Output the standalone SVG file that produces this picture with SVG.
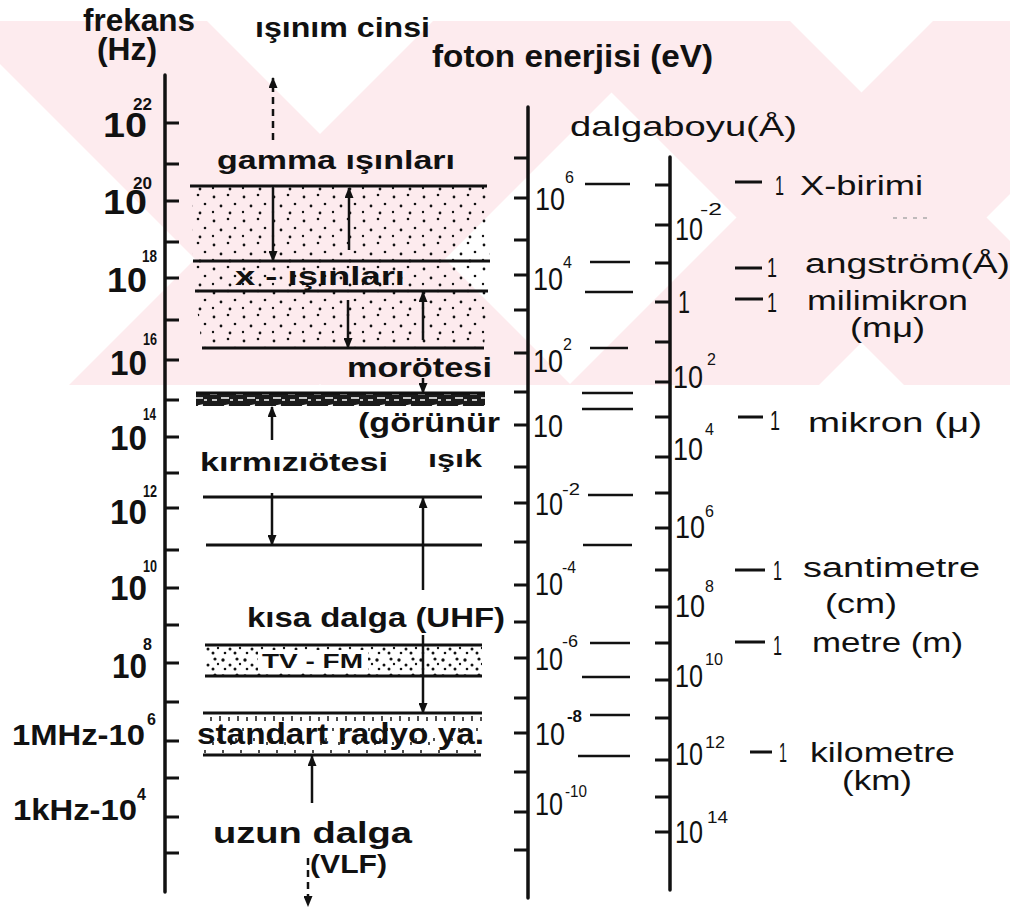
<svg xmlns="http://www.w3.org/2000/svg" width="1019" height="912" viewBox="0 0 1019 912">
<defs>
<style>
.ax{stroke:#111;stroke-width:3.5;fill:none;stroke-linecap:round}
.tk{stroke:#111;stroke-width:3;fill:none}
.bl{stroke:#111;stroke-width:3;fill:none}
.ds{stroke:#111;stroke-width:2.5;fill:none}
.ar{stroke:#111;stroke-width:2.5;fill:none;marker-end:url(#ah)}
.ard{stroke:#111;stroke-width:2.5;fill:none;stroke-dasharray:7 5;marker-end:url(#ah)}
.wm{fill:#fdebee}
text{font-family:"Liberation Sans",Arial,sans-serif;fill:#111;font-weight:bold}
.n{font-weight:normal}
.sup{font-size:16px}
.L{font-size:35px}
.E{font-size:31px;font-weight:normal}
.U{font-size:27px;font-weight:normal}
</style>
<marker id="ah" viewBox="0 0 12 10" refX="11" refY="5" markerWidth="12" markerHeight="9" markerUnits="userSpaceOnUse" orient="auto"><path d="M0,0 L12,5 L0,10 Z" fill="#111"/></marker>
<pattern id="dots" width="30" height="24" patternUnits="userSpaceOnUse"><g fill="#111"><circle cx="4" cy="5" r="1.4"/><circle cx="18" cy="3" r="1.3"/><circle cx="11" cy="14" r="1.4"/><circle cx="25" cy="12" r="1.3"/><circle cx="3" cy="20" r="1.2"/><circle cx="20" cy="21" r="1.4"/></g></pattern>
<pattern id="blobs" width="22" height="16" patternUnits="userSpaceOnUse"><g fill="#111"><circle cx="3" cy="4" r="1.7"/><circle cx="10" cy="9" r="1.5"/><circle cx="17" cy="3" r="1.6"/><circle cx="15" cy="13" r="1.5"/><circle cx="5" cy="13" r="1.3"/><circle cx="20" cy="8" r="1.2"/></g></pattern>
<pattern id="rad" width="18" height="42" patternUnits="userSpaceOnUse"><g stroke="#111" stroke-width="1.5"><path d="M4,2 v5 M13,3 v4 M9,14 v3 M2,24 v3 M15,28 v3 M7,36 v3"/></g></pattern>
<pattern id="vis" width="26" height="13" patternUnits="userSpaceOnUse"><rect width="26" height="13" fill="#1b1b1b"/><path d="M2,4 h7 M13,8 h8 M4,10 h5 M16,3 l5,-1 M22,10 h3" stroke="#fff" stroke-width="1.3"/></pattern>
</defs>

<g id="watermark">
<path class="wm" d="M0,21 H207 L571,385 H321 L0,64 Z"/>
<path class="wm" d="M433,21 H683 L319,385 H69 Z"/>
<path class="wm" d="M540,21 H790 L1010,241 V385 H904 Z"/>
<path class="wm" d="M933,21 H1010 V194 L819,385 H569 Z"/>
</g>

<g id="headers">
<text x="83" y="31" font-size="32" textLength="112" lengthAdjust="spacingAndGlyphs">frekans</text>
<text x="97" y="60" font-size="31" textLength="60" lengthAdjust="spacingAndGlyphs">(Hz)</text>
<text x="255" y="37" font-size="27" textLength="175" lengthAdjust="spacingAndGlyphs">ışınım cinsi</text>
<text x="432" y="67" font-size="32" textLength="281" lengthAdjust="spacingAndGlyphs">foton enerjisi (eV)</text>
<text x="570" y="136" font-size="28" class="n" textLength="227" lengthAdjust="spacingAndGlyphs">dalgaboyu(Å)</text>
</g>

<g id="freq-axis">
<path class="ax" d="M165,75 V892"/>
<path class="tk" d="M165,123H179M165,164H179M165,201H179M165,242H179M165,278H179M165,320H179M165,360H179M165,400H179M165,437H179M165,473H179M165,508H179M165,550H179M165,588H179M165,625H179M165,663H179M165,702H179M165,741H179M165,778H179M165,817H179M165,853H179"/>
<text class="L" x="103" y="137" textLength="44" lengthAdjust="spacingAndGlyphs">10</text><text class="sup" x="133" y="110" textLength="19" lengthAdjust="spacingAndGlyphs">22</text>
<text class="L" x="103" y="214" textLength="44" lengthAdjust="spacingAndGlyphs">10</text><text class="sup" x="133" y="189" textLength="19" lengthAdjust="spacingAndGlyphs">20</text>
<text class="L" x="107" y="292" textLength="40" lengthAdjust="spacingAndGlyphs">10</text><text class="sup" x="142" y="262" textLength="15" lengthAdjust="spacingAndGlyphs">18</text>
<text class="L" x="110" y="375" textLength="37" lengthAdjust="spacingAndGlyphs">10</text><text class="sup" x="143" y="345" textLength="14" lengthAdjust="spacingAndGlyphs">16</text>
<text class="L" x="110" y="450" textLength="37" lengthAdjust="spacingAndGlyphs">10</text><text class="sup" x="143" y="420" textLength="13" lengthAdjust="spacingAndGlyphs">14</text>
<text class="L" x="110" y="524" textLength="37" lengthAdjust="spacingAndGlyphs">10</text><text class="sup" x="143" y="497" textLength="14" lengthAdjust="spacingAndGlyphs">12</text>
<text class="L" x="110" y="600" textLength="37" lengthAdjust="spacingAndGlyphs">10</text><text class="sup" x="143" y="572" textLength="14" lengthAdjust="spacingAndGlyphs">10</text>
<text class="L" x="112" y="678" textLength="35" lengthAdjust="spacingAndGlyphs">10</text><text class="sup" x="143" y="650">8</text>
<text x="12" y="745" font-size="30" textLength="133" lengthAdjust="spacingAndGlyphs">1MHz-10</text><text class="sup" x="147" y="725">6</text>
<text x="13" y="820" font-size="30" textLength="124" lengthAdjust="spacingAndGlyphs">1kHz-10</text><text class="sup" x="137" y="800">4</text>
</g>

<g id="energy-axis">
<path class="ax" d="M528,107 V898"/>
<path class="tk" d="M514,158H528M514,198H528M514,240H528M514,275H528M514,310H528M514,353H528M514,392H528M514,425H528M514,467H528M514,503H528M514,542H528M514,585H528M514,622H528M514,658H528M514,698H528M514,733H528M514,772H528M514,812H528M514,850H528"/>
<path class="ds" d="M585,184H630M590,262H630M585,292H633M590,348H628M582,393H633M582,409H633M588,495H633M583,545H632M590,643H630M582,677H630M590,715H630M578,756H630"/>
<text class="E" x="535" y="210" textLength="30" lengthAdjust="spacingAndGlyphs">10</text><text class="sup n" x="565" y="183">6</text>
<text class="E" x="533" y="290" textLength="30" lengthAdjust="spacingAndGlyphs">10</text><text class="sup n" x="563" y="268">4</text>
<text class="E" x="533" y="372" textLength="30" lengthAdjust="spacingAndGlyphs">10</text><text class="sup n" x="563" y="350">2</text>
<text class="E" x="533" y="437" textLength="30" lengthAdjust="spacingAndGlyphs">10</text>
<text class="E" x="535" y="515" textLength="28" lengthAdjust="spacingAndGlyphs">10</text><text class="sup n" x="562" y="495" textLength="18" lengthAdjust="spacingAndGlyphs">-2</text>
<text class="E" x="535" y="595" textLength="28" lengthAdjust="spacingAndGlyphs">10</text><text class="sup n" x="562" y="573" textLength="14" lengthAdjust="spacingAndGlyphs">-4</text>
<text class="E" x="535" y="670" textLength="28" lengthAdjust="spacingAndGlyphs">10</text><text class="sup n" x="562" y="647" textLength="16" lengthAdjust="spacingAndGlyphs">-6</text>
<text class="E" x="535" y="745" textLength="30" lengthAdjust="spacingAndGlyphs">10</text><text class="sup" x="567" y="722" textLength="15" lengthAdjust="spacingAndGlyphs">-8</text>
<text class="E" x="535" y="815" textLength="28" lengthAdjust="spacingAndGlyphs">10</text><text class="sup n" x="565" y="797" textLength="22" lengthAdjust="spacingAndGlyphs">-10</text>
</g>

<g id="wavelength-axis">
<path class="ax" d="M670,157 V890"/>
<path class="tk" d="M655,185H670M655,225H670M655,263H670M655,302H670M655,342H670M655,382H670M655,417H670M655,457H670M655,493H670M655,528H670M655,570H670M655,607H670M655,643H670M655,680H670M655,718H670M655,760H670M655,797H670M655,832H670"/>
<text class="E" x="675" y="240" textLength="28" lengthAdjust="spacingAndGlyphs">10</text><text class="sup n" x="700" y="215" textLength="22" lengthAdjust="spacingAndGlyphs">-2</text>
<text class="E" x="678" y="313" textLength="12" lengthAdjust="spacingAndGlyphs">1</text>
<text class="E" x="673" y="388" textLength="30" lengthAdjust="spacingAndGlyphs">10</text><text class="sup n" x="707" y="365">2</text>
<text class="E" x="673" y="460" textLength="30" lengthAdjust="spacingAndGlyphs">10</text><text class="sup n" x="705" y="435">4</text>
<text class="E" x="675" y="538" textLength="30" lengthAdjust="spacingAndGlyphs">10</text><text class="sup n" x="705" y="517">6</text>
<text class="E" x="675" y="617" textLength="30" lengthAdjust="spacingAndGlyphs">10</text><text class="sup n" x="705" y="592">8</text>
<text class="E" x="675" y="687" textLength="28" lengthAdjust="spacingAndGlyphs">10</text><text class="sup n" x="705" y="665" textLength="18" lengthAdjust="spacingAndGlyphs">10</text>
<text class="E" x="675" y="765" textLength="28" lengthAdjust="spacingAndGlyphs">10</text><text class="sup n" x="705" y="748" textLength="20" lengthAdjust="spacingAndGlyphs">12</text>
<text class="E" x="675" y="843" textLength="28" lengthAdjust="spacingAndGlyphs">10</text><text class="sup n" x="707" y="823" textLength="21" lengthAdjust="spacingAndGlyphs">14</text>
</g>

<g id="units">
<path class="tk" d="M735,182H762M735,268H762M735,299H763M738,417H763M735,570H765M735,642H765M750,752H772"/>
<path d="M893,218H933" stroke="#aaa" stroke-width="1.5" stroke-dasharray="4 6"/>
<text class="U" x="775" y="195" textLength="9" lengthAdjust="spacingAndGlyphs">1</text><text class="U" x="800" y="195" textLength="123" lengthAdjust="spacingAndGlyphs">X-birimi</text>
<text class="U" x="767" y="277" textLength="10" lengthAdjust="spacingAndGlyphs">1</text><text class="U" x="805" y="273" textLength="205" lengthAdjust="spacingAndGlyphs">angström(Å)</text>
<text class="U" x="767" y="312" textLength="10" lengthAdjust="spacingAndGlyphs">1</text><text class="U" x="807" y="310" textLength="161" lengthAdjust="spacingAndGlyphs">milimikron</text>
<text class="U" x="850" y="337" textLength="75" lengthAdjust="spacingAndGlyphs">(mμ)</text>
<text class="U" x="770" y="430" textLength="10" lengthAdjust="spacingAndGlyphs">1</text><text class="U" x="808" y="432" textLength="174" lengthAdjust="spacingAndGlyphs">mikron (μ)</text>
<text class="U" x="773" y="580" textLength="9" lengthAdjust="spacingAndGlyphs">1</text><text class="U" x="803" y="577" textLength="177" lengthAdjust="spacingAndGlyphs">santimetre</text>
<text class="U" x="825" y="613" textLength="72" lengthAdjust="spacingAndGlyphs">(cm)</text>
<text class="U" x="773" y="655" textLength="9" lengthAdjust="spacingAndGlyphs">1</text><text class="U" x="812" y="652" textLength="151" lengthAdjust="spacingAndGlyphs">metre (m)</text>
<text class="U" x="779" y="762" textLength="8" lengthAdjust="spacingAndGlyphs">1</text><text class="U" x="810" y="762" textLength="145" lengthAdjust="spacingAndGlyphs">kilometre</text>
<text class="U" x="842" y="790" textLength="70" lengthAdjust="spacingAndGlyphs">(km)</text>
</g>

<g id="gamma-xray">
<path d="M192,186 H487 L490,261 L488,291 L484,348 H202 L195,291 L193,261 Z" fill="url(#dots)"/>
<path class="bl" d="M190,186H487M193,261H490M195,291H488M202,348H484"/>
<text x="217" y="169" font-size="26" textLength="238" lengthAdjust="spacingAndGlyphs">gamma ışınları</text>
<text x="235" y="285" font-size="25" textLength="170" lengthAdjust="spacingAndGlyphs">x - ışınları</text>
</g>

<g id="uv">
<text x="347" y="377" font-size="28" textLength="145" lengthAdjust="spacingAndGlyphs">morötesi</text>
</g>

<g id="visible">
<rect x="196" y="393" width="289" height="13" fill="url(#vis)"/>
<path class="bl" d="M196,393H485" stroke-width="2"/>
<text x="358" y="432" font-size="27" textLength="142" lengthAdjust="spacingAndGlyphs">(görünür</text>
<text x="428" y="467" font-size="24" textLength="54" lengthAdjust="spacingAndGlyphs">ışık</text>
</g>

<g id="infrared">
<text x="200" y="471" font-size="26" textLength="188" lengthAdjust="spacingAndGlyphs">kırmızıötesi</text>
<path class="bl" d="M203,497H482M206,545H482"/>
</g>

<g id="shortwave">
<text x="247" y="627" font-size="28" textLength="258" lengthAdjust="spacingAndGlyphs">kısa dalga (UHF)</text>
</g>

<g id="tvfm">
<rect x="205" y="645" width="277" height="31" fill="url(#blobs)"/>
<rect x="258" y="650" width="110" height="22" fill="#fff"/>
<path class="bl" d="M205,645H482M205,676H482"/>
<text x="262" y="668" font-size="21" textLength="101" lengthAdjust="spacingAndGlyphs">TV - FM</text>
</g>

<g id="radio">
<rect x="203" y="713" width="279" height="42" fill="url(#rad)"/>
<path class="bl" d="M203,713H482M203,755H481"/>
<text x="197" y="744" font-size="29" textLength="287" lengthAdjust="spacingAndGlyphs">standart radyo ya.</text>
</g>

<g id="longwave">
<text x="213" y="843" font-size="29" textLength="199" lengthAdjust="spacingAndGlyphs">uzun dalga</text>
<text x="310" y="873" font-size="25" textLength="77" lengthAdjust="spacingAndGlyphs">(VLF)</text>
</g>

<g id="connectors">
<line class="ard" x1="273" y1="140" x2="273" y2="78"/>
<line class="ar" x1="273" y1="188" x2="273" y2="261"/>
<line class="ar" x1="349" y1="250" x2="349" y2="188"/>
<line class="ar" x1="348" y1="300" x2="348" y2="348"/>
<line class="ar" x1="423" y1="340" x2="423" y2="292"/>
<line class="ar" x1="423" y1="378" x2="423" y2="393"/>
<line class="ar" x1="272" y1="440" x2="272" y2="407"/>
<line class="ar" x1="272" y1="493" x2="272" y2="545"/>
<line class="ar" x1="423" y1="590" x2="423" y2="498"/>
<line class="ar" x1="423" y1="635" x2="423" y2="713"/>
<line class="ar" x1="312" y1="803" x2="312" y2="756"/>
<line class="ard" x1="308" y1="858" x2="308" y2="906"/>
</g>
</svg>
